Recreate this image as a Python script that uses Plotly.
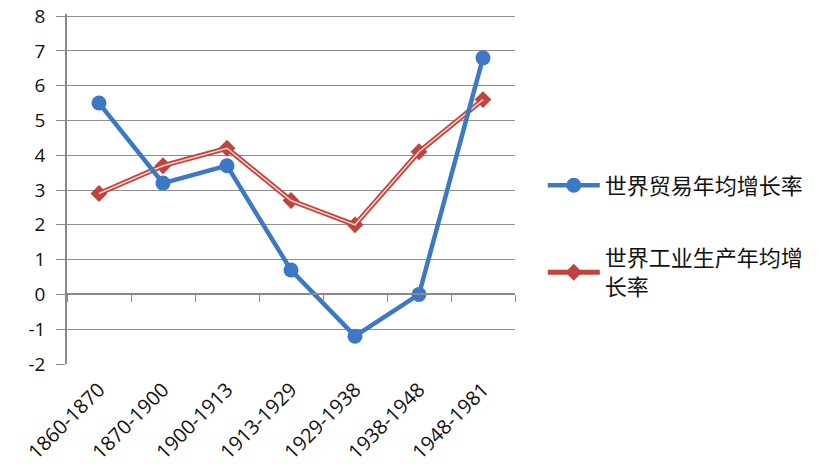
import plotly.graph_objects as go

periods = ["1860-1870", "1870-1900", "1900-1913", "1913-1929", "1929-1938", "1938-1948", "1948-1981"]
trade_growth = [5.5, 3.2, 3.7, 0.7, -1.2, 0.0, 6.8]
industry_growth = [2.9, 3.7, 4.2, 2.7, 2.0, 4.1, 5.6]
trade_name = "世界贸易年均增长率"
industry_name = "世界工业生产年均增<br>长率"
y_ticks = list(range(-2, 9))

BLUE = "#3d78c5"
RED = "#c2433c"
FONT = "Open Sans, Noto Sans CJK SC, sans-serif"

fig = go.Figure()

fig.add_trace(go.Scatter(
    x=periods, y=trade_growth, name=trade_name, mode="lines+markers",
    xaxis="x2", yaxis="y",
    line=dict(color=BLUE, width=4.5),
    marker=dict(symbol="circle", size=15, color=BLUE),
    legendgroup="a",
))
fig.add_trace(go.Scatter(
    x=periods, y=industry_growth, name=industry_name, mode="lines+markers",
    xaxis="x", yaxis="y",
    line=dict(color=RED, width=5),
    marker=dict(symbol="diamond", size=13, color=RED),
    legendgroup="b",
))
fig.add_trace(go.Scatter(
    x=periods, y=industry_growth, mode="lines", showlegend=False,
    xaxis="x", yaxis="y", hoverinfo="skip",
    line=dict(color="#f6d3cf", width=1.5),
    legendgroup="b",
))

fig.update_layout(
    width=817, height=474,
    margin=dict(l=67, r=302, t=14, b=110, autoexpand=False),
    paper_bgcolor="white", plot_bgcolor="white",
    font=dict(family=FONT, color="#111111"),
    xaxis=dict(
        type="category", categoryorder="array", categoryarray=periods,
        range=[-0.5, 6.5], automargin=False,
        showgrid=False, showline=False, zeroline=False, ticks="",
        ticklabelstandoff=9,
        tickangle=-45, tickfont=dict(size=20, family=FONT, color="#111111"),
    ),
    xaxis2=dict(
        type="category", categoryorder="array", categoryarray=periods,
        range=[-0.5, 6.5], overlaying="x", anchor="free", position=0.2,
        side="bottom", matches="x", automargin=False,
        showgrid=False, showline=True, linecolor="#8a8a8a", linewidth=1.5,
        ticks="outside", tickson="boundaries", ticklen=7, tickcolor="#8a8a8a",
        showticklabels=False, zeroline=False,
    ),
    yaxis=dict(
        range=[-2, 8.06], tickvals=y_ticks, ticktext=[str(v) for v in y_ticks],
        automargin=False,
        showgrid=True, gridcolor="#8f8f8f", gridwidth=1,
        showline=True, linecolor="#8a8a8a", linewidth=1.5,
        ticks="outside", ticklen=9, tickcolor="#8a8a8a",
        ticklabelstandoff=7,
        zeroline=False,
        tickfont=dict(size=19, family=FONT, color="#111111"),
    ),
    legend=dict(
        x=1.062, y=0.57, xanchor="left", yanchor="top",
        font=dict(size=22, family="Noto Sans CJK SC, sans-serif", color="#111111"),
        tracegroupgap=41, traceorder="grouped", itemwidth=52,
        bgcolor="rgba(0,0,0,0)",
    ),
    showlegend=True,
)

fig.write_html("out.html", config={"displayModeBar": False},
               post_script="document.body.style.margin='0';")
